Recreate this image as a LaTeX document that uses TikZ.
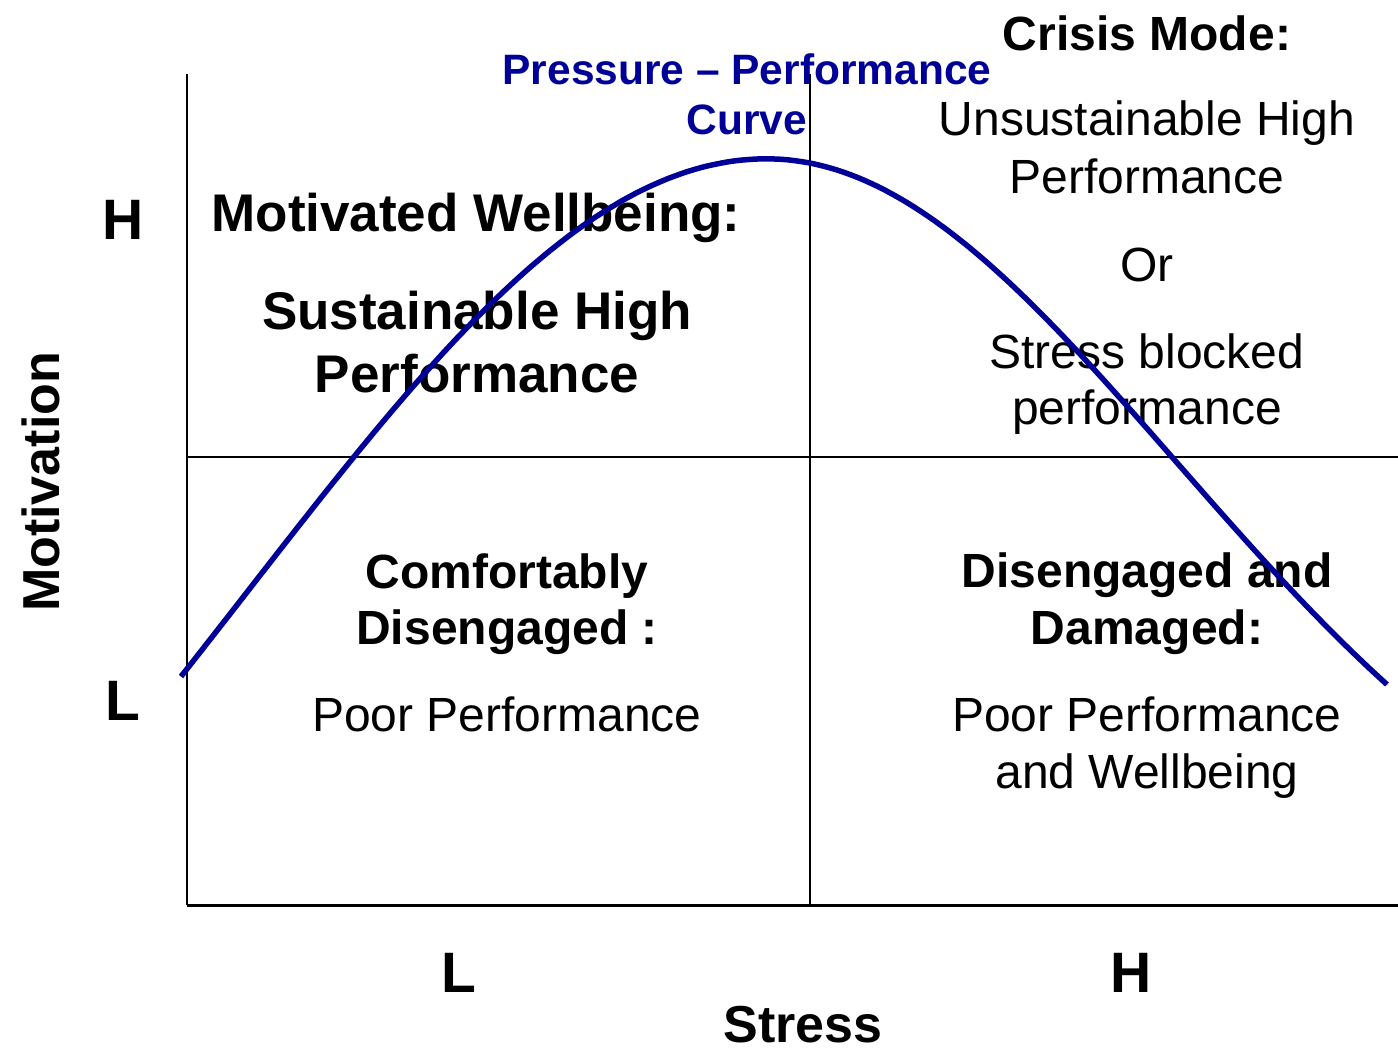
\documentclass[tikz,border=0pt]{standalone}
\usepackage{fontspec}
\setmainfont{Liberation Sans}
\definecolor{curveblue}{RGB}{0,0,153}
\begin{document}
\begin{tikzpicture}[x=1pt,y=-1pt,
  every node/.style={inner sep=0pt, anchor=base},
  headbig/.style={font=\fontsize{53}{60}\selectfont\bfseries},
  headmid/.style={font=\fontsize{48}{56}\selectfont\bfseries},
  plain/.style={font=\fontsize{48}{56}\selectfont},
  axislab/.style={font=\fontsize{57}{64}\selectfont\bfseries},
  axistitle/.style={font=\fontsize{52}{60}\selectfont\bfseries},
  curvelab/.style={font=\fontsize{42.5}{50}\selectfont\bfseries, text=curveblue},
  gridline/.style={line width=2.4pt, black},
  baseline/.style={line width=3pt, black},
  pcurve/.style={line width=5.5pt, curveblue, line cap=butt}]
\useasboundingbox (0,0) rectangle (1398,1051);

% grid corners
\coordinate (tl) at (187,74);
\coordinate (bl) at (187,905);
\coordinate (tm) at (810,74);
\coordinate (bm) at (810,905);
\coordinate (ml) at (187,457);
\coordinate (mr) at (1398,457);
\coordinate (br) at (1398,905);

% curve title
\node[curvelab] (ct1) at (747,85) {Pressure – Performance};
\node[curvelab] (ct2) at (747,135) {Curve};

% top right quadrant
\node[headmid] (cm) at (1147,51) {Crisis Mode:};
\node[plain] (cm1) at (1147,136) {Unsustainable High};
\node[plain] (cm2) at (1147,194) {Performance};
\node[plain] (cm3) at (1147,282) {Or};
\node[plain] (cm4) at (1147,368) {Stress blocked};
\node[plain] (cm5) at (1147,424) {performance};

% top left quadrant
\node[headbig] (mw) at (476,232) {Motivated Wellbeing:};
\node[headbig] (mw1) at (477,329) {Sustainable High};
\node[headbig] (mw2) at (477,392) {Performance};

% bottom left quadrant
\node[headmid] (cd1) at (507,588) {Comfortably};
\node[headmid] (cd2) at (507,644) {Disengaged :};
\node[plain] (cd3) at (507,731) {Poor Performance};

% bottom right quadrant
\node[headmid] (dd1) at (1147,587) {Disengaged and};
\node[headmid] (dd2) at (1147,644) {Damaged:};
\node[plain] (dd3) at (1147,731) {Poor Performance};
\node[plain] (dd4) at (1147,788) {and Wellbeing};

% axis labels
\node[axislab] (mh) at (123,240) {H};
\node[axislab] (ml2) at (123,720) {L};
\node[axislab] (sl) at (459,992) {L};
\node[axislab] (sh) at (1131,992) {H};
\node[axistitle] (st) at (803,1042) {Stress};
\node[axistitle, rotate=90] (mo) at (59,482) {Motivation};

% quadrant lines
\draw[gridline] (tl) -- (bl);
\draw[gridline] (tm) -- (bm);
\draw[gridline] (ml) -- (mr);
\draw[baseline] (bl) -- (br);

% pressure-performance curve: two bell halves meeting at the peak
\draw[pcurve]
  plot[domain=181:767, samples=90]
    (\x, {159 + 1100*(1 - exp(-((\x-767)/100)^2/54.0))})
  -- plot[domain=767:1387, samples=90]
    (\x, {159 + 770*(1 - exp(-((\x-767)/100)^2/33.5))});
\end{tikzpicture}
\end{document}
